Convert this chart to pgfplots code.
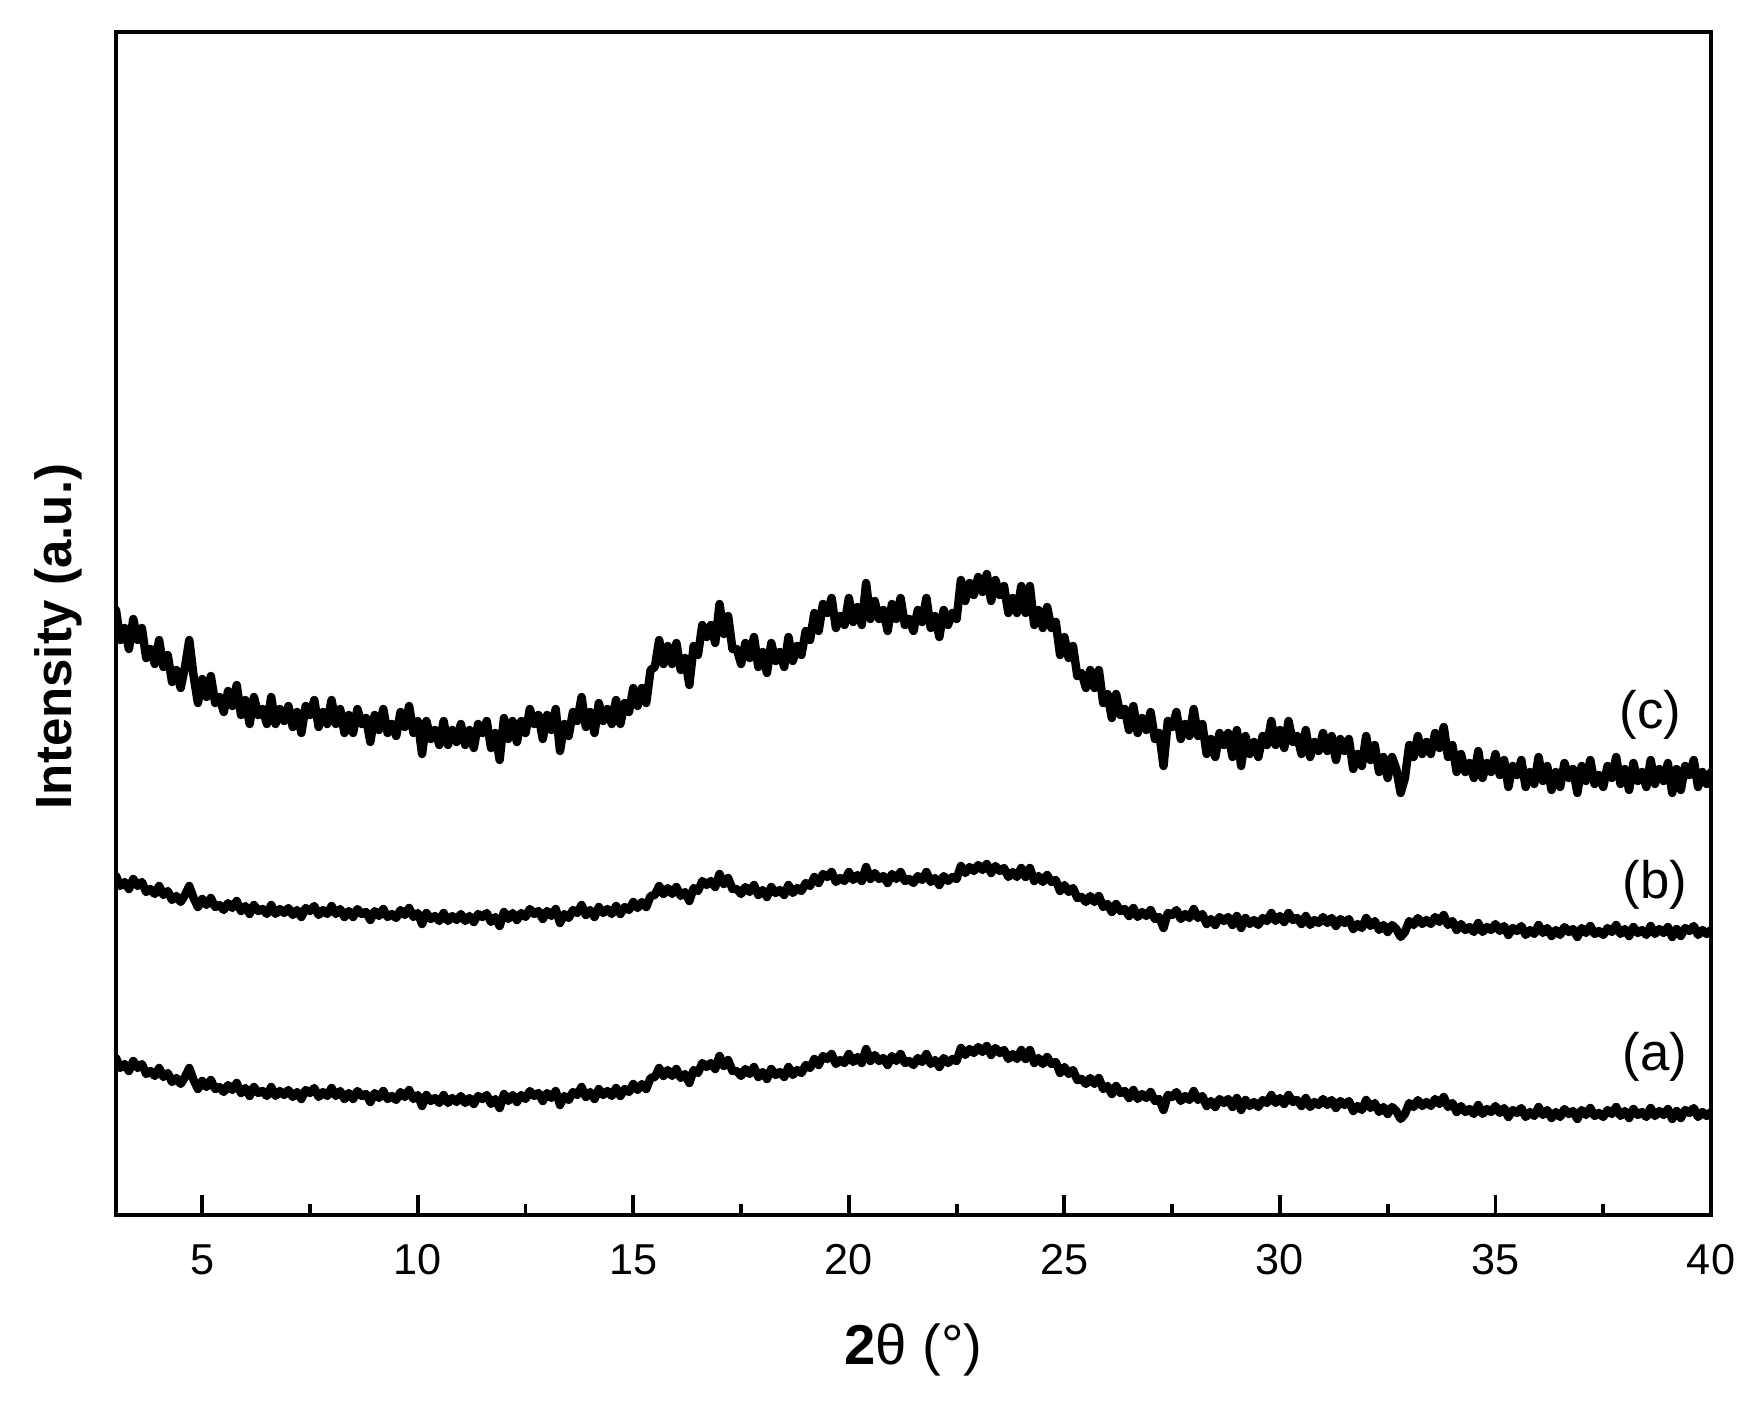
\documentclass[border=0pt]{standalone}
\usepackage{fontspec}
\setmainfont{Liberation Sans}
\usepackage{pgfplots}
\usepackage{pgfplotstable}
\pgfplotsset{compat=1.18}

% 2theta, then the three patterns (a), (b), (c)
\pgfplotstableread{
x a b c
3.0 157 339 605
3.1 147 329 575
3.2 151 333 587
3.3 144 326 566
3.4 154 336 596
3.5 147 329 575
3.6 151 333 587
3.7 141 323 557
3.8 144 326 566
3.9 139 321 551
4.0 147 329 575
4.1 138 320 548
4.2 142 324 560
4.3 133 315 533
4.4 137 319 545
4.5 131 313 527
4.6 138 320 548
4.7 147 329 575
4.8 135 317 539
4.9 126 308 512
5.0 134 316 536
5.1 128 310 518
5.2 135 317 539
5.3 126 308 512
5.4 128 310 518
5.5 123 305 503
5.6 130 312 524
5.7 125 307 509
5.8 132 314 530
5.9 122 304 500
6.0 127 309 515
6.1 119 301 491
6.2 128 310 518
6.3 122 304 500
6.4 124 306 506
6.5 119 301 491
6.6 128 310 518
6.7 119 301 491
6.8 124 306 506
6.9 120 302 494
7.0 125 307 509
7.1 118 300 488
7.2 123 305 503
7.3 116 298 482
7.4 125 307 509
7.5 122 304 500
7.6 127 309 515
7.7 118 300 488
7.8 123 305 503
7.9 119 301 491
8.0 127 309 515
8.1 119 301 491
8.2 124 306 506
8.3 116 298 482
8.4 122 304 500
8.5 116 298 482
8.6 124 306 506
8.7 119 301 491
8.8 121 303 497
8.9 113 295 473
9.0 122 304 500
9.1 117 299 485
9.2 124 306 506
9.3 116 298 482
9.4 119 301 491
9.5 115 297 479
9.6 123 305 503
9.7 118 300 488
9.8 125 307 509
9.9 116 298 482
10.0 120 302 494
10.1 109 291 461
10.2 120 302 494
10.3 114 296 476
10.4 117 299 485
10.5 112 294 470
10.6 120 302 494
10.7 112 294 470
10.8 117 299 485
10.9 113 295 473
11.0 119 301 491
11.1 112 294 470
11.2 117 299 485
11.3 111 293 467
11.4 119 301 491
11.5 116 298 482
11.6 120 302 494
11.7 111 293 467
11.8 116 298 482
11.9 107 289 455
12.0 121 303 497
12.1 114 296 476
12.2 120 302 494
12.3 113 295 473
12.4 120 302 494
12.5 116 298 482
12.6 124 306 506
12.7 119 301 491
12.8 122 304 500
12.9 114 296 476
13.0 122 304 500
13.1 117 299 485
13.2 124 306 506
13.3 110 292 464
13.4 119 301 491
13.5 115 297 479
13.6 123 305 503
13.7 120 302 494
13.8 128 310 518
13.9 118 300 488
14.0 123 305 503
14.1 116 298 482
14.2 126 308 512
14.3 120 302 494
14.4 124 306 506
14.5 119 301 491
14.6 127 309 515
14.7 119 301 491
14.8 126 308 512
14.9 123 305 503
15.0 131 313 527
15.1 125 307 509
15.2 131 313 527
15.3 126 308 512
15.4 137 319 545
15.5 138 320 548
15.6 147 329 575
15.7 139 321 551
15.8 145 327 569
15.9 139 321 551
16.0 146 328 572
16.1 137 319 545
16.2 141 323 557
16.3 132 314 530
16.4 145 327 569
16.5 142 324 560
16.6 152 334 590
16.7 148 330 578
16.8 152 334 590
16.9 146 328 572
17.0 159 341 611
17.1 149 331 581
17.2 155 337 599
17.3 144 326 566
17.4 144 326 566
17.5 139 321 551
17.6 146 328 572
17.7 141 323 557
17.8 148 330 578
17.9 138 320 548
18.0 143 325 563
18.1 136 318 542
18.2 146 328 572
18.3 140 322 554
18.4 143 325 563
18.5 138 320 548
18.6 148 330 578
18.7 140 322 554
18.8 145 327 569
18.9 142 324 560
19.0 150 332 584
19.1 147 329 575
19.2 156 338 602
19.3 150 332 584
19.4 159 341 611
19.5 156 338 602
19.6 161 343 617
19.7 151 333 587
19.8 155 337 599
19.9 152 334 590
20.0 161 343 617
20.1 153 335 593
20.2 158 340 608
20.3 152 334 590
20.4 166 348 632
20.5 154 336 596
20.6 160 342 614
20.7 154 336 596
20.8 157 339 605
20.9 150 332 584
21.0 159 341 611
21.1 154 336 596
21.2 161 343 617
21.3 152 334 590
21.4 154 336 596
21.5 150 332 584
21.6 157 339 605
21.7 153 335 593
21.8 161 343 617
21.9 151 333 587
22.0 155 337 599
22.1 148 330 578
22.2 157 339 605
22.3 152 334 590
22.4 156 338 602
22.5 154 336 596
22.6 167 349 635
22.7 160 342 614
22.8 166 348 632
22.9 162 344 620
23.0 168 350 638
23.1 163 345 623
23.2 169 351 641
23.3 160 342 614
23.4 167 349 635
23.5 162 344 620
23.6 165 347 629
23.7 156 338 602
23.8 161 343 617
23.9 156 338 602
24.0 165 347 629
24.1 156 338 602
24.2 165 347 629
24.3 152 334 590
24.4 157 339 605
24.5 151 333 587
24.6 158 340 608
24.7 151 333 587
24.8 153 335 593
24.9 142 324 560
25.0 148 330 578
25.1 141 323 557
25.2 145 327 569
25.3 135 317 539
25.4 136 318 542
25.5 131 313 527
25.6 137 319 545
25.7 131 313 527
25.8 137 319 545
25.9 126 308 512
26.0 129 311 521
26.1 121 303 497
26.2 129 311 521
26.3 122 304 500
26.4 124 306 506
26.5 117 299 485
26.6 125 307 509
26.7 116 298 482
26.8 121 303 497
26.9 117 299 485
27.0 123 305 503
27.1 114 296 476
27.2 116 298 482
27.3 105 287 449
27.4 120 302 494
27.5 118 300 488
27.6 123 305 503
27.7 114 296 476
27.8 119 301 491
27.9 115 297 479
28.0 124 306 506
28.1 115 297 479
28.2 119 301 491
28.3 109 291 461
28.4 114 296 476
28.5 108 290 458
28.6 116 298 482
28.7 112 294 470
28.8 116 298 482
28.9 108 290 458
29.0 117 299 485
29.1 105 287 449
29.2 115 297 479
29.3 109 291 461
29.4 113 295 473
29.5 108 290 458
29.6 115 297 479
29.7 112 294 470
29.8 120 302 494
29.9 112 294 470
30.0 117 299 485
30.1 111 293 467
30.2 120 302 494
30.3 113 295 473
30.4 115 297 479
30.5 109 291 461
30.6 117 299 485
30.7 108 290 458
30.8 113 295 473
30.9 110 292 464
31.0 116 298 482
31.1 110 292 464
31.2 115 297 479
31.3 107 289 455
31.4 114 296 476
31.5 110 292 464
31.6 114 296 476
31.7 104 286 446
31.8 109 291 461
31.9 105 287 449
32.0 115 297 479
32.1 107 289 455
32.2 112 294 470
32.3 103 285 443
32.4 108 290 458
32.5 101 283 437
32.6 108 290 458
32.7 104 286 446
32.8 96 278 422
32.9 101 283 437
33.0 112 294 470
33.1 108 290 458
33.2 115 297 479
33.3 109 291 461
33.4 113 295 473
33.5 109 291 461
33.6 116 298 482
33.7 111 293 467
33.8 118 300 488
33.9 108 290 458
34.0 112 294 470
34.1 103 285 443
34.2 109 291 461
34.3 103 285 443
34.4 106 288 452
34.5 101 283 437
34.6 110 292 464
34.7 101 283 437
34.8 106 288 452
34.9 103 285 443
35.0 109 291 461
35.1 102 284 440
35.2 107 289 455
35.3 98 280 428
35.4 105 287 449
35.5 102 284 440
35.6 107 289 455
35.7 98 280 428
35.8 103 285 443
35.9 99 281 431
36.0 108 290 458
36.1 100 282 434
36.2 105 287 449
36.3 97 279 425
36.4 103 285 443
36.5 98 280 428
36.6 106 288 452
36.7 101 283 437
36.8 104 286 446
36.9 96 278 422
37.0 105 287 449
37.1 100 282 434
37.2 107 289 455
37.3 99 281 431
37.4 102 284 440
37.5 98 280 428
37.6 105 287 449
37.7 101 283 437
37.8 108 290 458
37.9 99 281 431
38.0 104 286 446
38.1 97 279 425
38.2 106 288 452
38.3 100 282 434
38.4 103 285 443
38.5 98 280 428
38.6 107 289 455
38.7 99 281 431
38.8 104 286 446
38.9 100 282 434
39.0 106 288 452
39.1 96 278 422
39.2 104 286 446
39.3 97 279 425
39.4 105 287 449
39.5 102 284 440
39.6 107 289 455
39.7 98 280 428
39.8 103 285 443
39.9 99 281 431
40.0 103 285 443
}\xrd

\begin{document}
\begin{tikzpicture}
\begin{axis}[
  name=ax,
  width=159.5mm, height=118.3mm, scale only axis,
  xmin=3, xmax=40, ymin=0, ymax=1183,
  xtick={5,10,...,40},
  minor xtick={7.5,12.5,...,37.5},
  xtick pos=bottom, ytick=\empty,
  tick align=inside,
  major tick length=2mm, minor tick length=1.1mm,
  every tick/.style={black, line width=1.1pt},
  axis line style={line width=1.3pt},
  /pgf/number format/assume math mode=true,
  xticklabel style={font=\fontsize{12.3}{14}\selectfont, anchor=center, yshift=-4.5mm},
  xlabel={\textbf{2}θ (°)},
  xlabel style={font=\fontsize{16}{18}\selectfont, at={(axis description cs:0.5,0)}, anchor=center, yshift=-13.5mm},
  ylabel={Intensity (a.u.)},
  ylabel style={font=\bfseries\fontsize{14.5}{16}\selectfont, at={(axis description cs:-0.0364,0.489)}, anchor=center},
]
\addplot[black, line width=2.4pt, line join=round, line cap=round] table[x=x, y=a] {\xrd};
\addplot[black, line width=2.4pt, line join=round, line cap=round] table[x=x, y=b] {\xrd};
\addplot[black, line width=2.4pt, line join=round, line cap=round] table[x=x, y=c] {\xrd};
\node[font=\fontsize{15}{17}\selectfont] at (axis cs:38.6,500) {(c)};
\node[font=\fontsize{15}{17}\selectfont] at (axis cs:38.7,330) {(b)};
\node[font=\fontsize{15}{17}\selectfont] at (axis cs:38.7,158) {(a)};
\end{axis}
\path ([xshift=-11.6mm,yshift=-18.5mm]ax.south west) rectangle ([xshift=5.3mm,yshift=3.2mm]ax.north east);
\end{tikzpicture}
\end{document}
